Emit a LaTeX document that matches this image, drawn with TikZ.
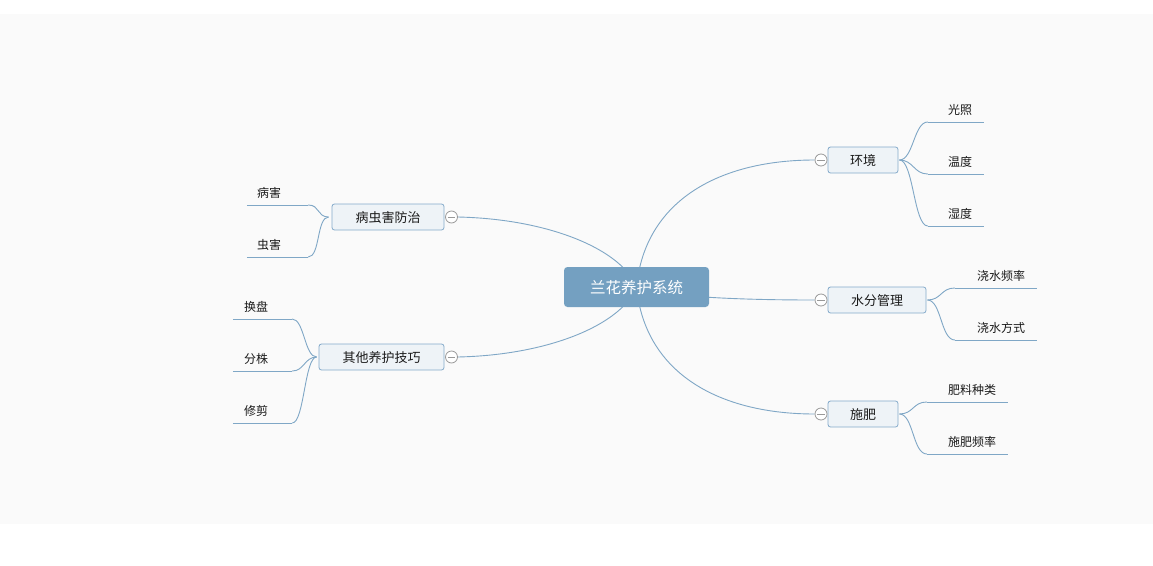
\documentclass[tikz,border=0pt]{standalone}
\usepackage{fontspec}
\newfontfamily\cjk{Noto Sans CJK SC}
\definecolor{bggray}{HTML}{FAFAFA}
\definecolor{linec}{HTML}{7FA7C6}
\definecolor{boxfill}{HTML}{EEF3F7}
\definecolor{boxdraw}{HTML}{84AACA}
\definecolor{cfill}{HTML}{74A0C1}
\definecolor{txt}{HTML}{1A1A1A}
\definecolor{togc}{HTML}{999999}
\pgfdeclarelayer{bgl}
\pgfdeclarelayer{edges}
\pgfsetlayers{bgl,edges,main}
\begin{document}
\begin{tikzpicture}[x=1pt,y=-1pt,
  every node/.style={font=\cjk, text=txt},
  centernode/.style={fill=cfill, rounded corners=3.5pt, minimum width=145pt, minimum height=40pt, inner sep=0pt, text height=13pt, text depth=1pt, text=white, font=\cjk\fontsize{15.5}{18}\selectfont},
  branch/.style={draw=boxdraw, fill=boxfill, rounded corners=2.5pt, minimum height=26pt, inner sep=0pt, text height=11pt, text depth=1pt, line width=0.8pt, font=\cjk\fontsize{13}{15}\selectfont},
  tog/.style={circle, draw=togc, fill=white, minimum size=12pt, inner sep=0pt, line width=0.8pt,
    path picture={\draw[togc, line width=0.8pt] ([xshift=-3.8pt]path picture bounding box.center) -- ([xshift=3.8pt]path picture bounding box.center);}},
  leafr/.style={anchor=south, inner xsep=0pt, inner ysep=7.5pt, text height=10pt, text depth=0pt, align=left, font=\cjk\fontsize{12}{14}\selectfont},
  leafl/.style={anchor=south, inner xsep=0pt, inner ysep=7.5pt, text height=10pt, text depth=0pt, align=right, font=\cjk\fontsize{12}{14}\selectfont},
  conn/.style={draw=linec, line width=0.9pt},
  uline/.style={draw=linec, line width=0.9pt}
]
\useasboundingbox (0,0) rectangle (1153,565);
\begin{pgfonlayer}{bgl}
\fill[white] (0,0) rectangle (1153,565);
\fill[bggray] (0,14) rectangle (1153,524);
\end{pgfonlayer}

% central
\node[centernode] (c) at (636.5,287) {兰花养护系统};

% branches
\node[branch, minimum width=70pt] (env) at (863,160) {环境};
\node[branch, minimum width=98pt] (water) at (877,300) {水分管理};
\node[branch, minimum width=70pt] (fert) at (863,414) {施肥};
\node[branch, minimum width=112pt] (pest) at (388,217) {病虫害防治};
\node[branch, minimum width=125pt] (other) at (381.5,357) {其他养护技巧};

% toggles
\node[tog] (tenv) at (821,160) {};
\node[tog] (twater) at (821,300) {};
\node[tog] (tfert) at (821,414) {};
\node[tog] (tpest) at (451.5,217) {};
\node[tog] (tother) at (451.5,357) {};

% leaves right
\node[leafr, text width=56pt] (l1) at (956,122) {\hspace*{20pt}光照};
\node[leafr, text width=56pt] (l2) at (956,174) {\hspace*{20pt}温度};
\node[leafr, text width=56pt] (l3) at (956,226) {\hspace*{20pt}湿度};
\node[leafr, text width=82pt] (w1) at (996,288) {\hspace*{22pt}浇水频率};
\node[leafr, text width=82pt] (w2) at (996,340) {\hspace*{22pt}浇水方式};
\node[leafr, text width=81pt] (f1) at (967.5,402) {\hspace*{21pt}肥料种类};
\node[leafr, text width=81pt] (f2) at (967.5,454) {\hspace*{21pt}施肥频率};
% leaves left
\node[leafl, text width=61pt] (p1) at (277.5,205) {病害\hspace*{27pt}};
\node[leafl, text width=61pt] (p2) at (277.5,257) {虫害\hspace*{27pt}};
\node[leafl, text width=59pt] (o1) at (262.5,319) {换盘\hspace*{24pt}};
\node[leafl, text width=59pt] (o2) at (262.5,371) {分株\hspace*{24pt}};
\node[leafl, text width=59pt] (o3) at (262.5,423) {修剪\hspace*{24pt}};

\begin{pgfonlayer}{edges}
% central connectors
\draw[conn] (c.center) .. controls (645,200) and (720,160) .. (tenv.west);
\draw[conn] (c.center) .. controls (645,374) and (720,414) .. (tfert.west);
\draw[conn] (c.center) .. controls (665,297) and (740,300) .. (twater.west);
\draw[conn] (c.center) .. controls (622,250) and (550,219) .. (tpest.east);
\draw[conn] (c.center) .. controls (622,324) and (550,355) .. (tother.east);

% right children
\foreach \l in {l1,l2,l3} {
  \draw[conn] ([xshift=1pt]env.east) .. controls +(14,0) and +(-14,0) .. (\l.south west);
  \draw[uline] (\l.south west) -- (\l.south east);
}
\foreach \l in {w1,w2} {
  \draw[conn] ([xshift=1pt]water.east) .. controls +(14,0) and +(-14,0) .. (\l.south west);
  \draw[uline] (\l.south west) -- (\l.south east);
}
\foreach \l in {f1,f2} {
  \draw[conn] ([xshift=1pt]fert.east) .. controls +(14,0) and +(-14,0) .. (\l.south west);
  \draw[uline] (\l.south west) -- (\l.south east);
}
% left children
\foreach \l in {p1,p2} {
  \draw[conn] ([xshift=-3pt]pest.west) .. controls +(-12,0) and +(12,0) .. (\l.south east);
  \draw[uline] (\l.south west) -- (\l.south east);
}
\foreach \l in {o1,o2,o3} {
  \draw[conn] ([xshift=-2pt]other.west) .. controls +(-12,0) and +(12,0) .. (\l.south east);
  \draw[uline] (\l.south west) -- (\l.south east);
}
\end{pgfonlayer}
\end{tikzpicture}
\end{document}
